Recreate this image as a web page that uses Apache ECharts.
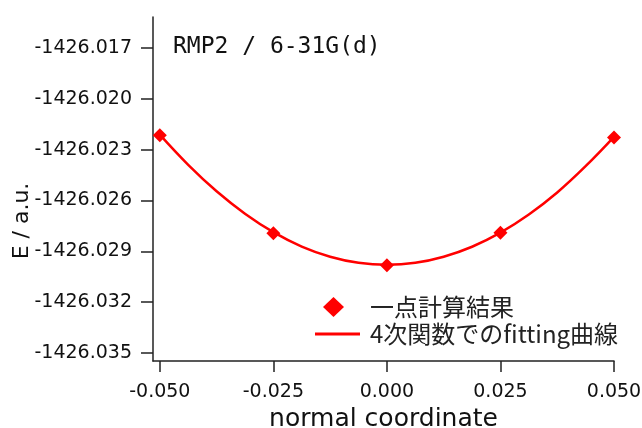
<!DOCTYPE html>
<html>
<head>
<meta charset="utf-8">
<script src="https://cdn.jsdelivr.net/npm/echarts@6/dist/echarts.min.js"></script>
<style>
  html, body { margin: 0; padding: 0; background: #fff; }
  #chart { width: 642px; height: 428px; }
</style>
</head>
<body>
<div id="chart"></div>
<script>
// 一点計算の結果 (normal coordinate, E / a.u.)
const pointX = [-0.05, -0.025, 0, 0.025, 0.05];
const pointE = [-1426.02215, -1426.02794, -1426.02982, -1426.0279, -1426.02229];

// 4次関数 fitting 曲線
const fitX = [
  -0.05, -0.04375, -0.0375, -0.03125, -0.025, -0.01875, -0.0125, -0.00625, 0,
  0.00625, 0.0125, 0.01875, 0.025, 0.03125, 0.0375, 0.04375, 0.05,
];
const fitE = [
  -1426.02212, -1426.0239, -1426.02546, -1426.02678, -1426.02787, -1426.02872, -1426.02932, -1426.02968, -1426.0298,
  -1426.02968, -1426.02932, -1426.02873, -1426.0279, -1426.02683, -1426.02553, -1426.02398, -1426.02225,
];

const xTicks = [-0.05, -0.025, 0, 0.025, 0.05];
const yTicks = [-1426.035, -1426.032, -1426.029, -1426.026, -1426.023, -1426.02, -1426.017];

const chart = echarts.init(document.getElementById("chart"));

const axisColor = "#222";
const sans = "DejaVu Sans";

const option = {
  animation: false,
  grid: { left: 153, right: 28, top: 17, bottom: 67, outerBoundsMode: "none", containLabel: false },
  title: {
    text: "RMP2 / 6-31G(d)",
    left: 168,
    top: 31,
    textStyle: { fontFamily: "DejaVu Sans Mono", fontSize: 23, fontWeight: "normal", color: "#111" },
  },
  legend: [
    {
      data: ["一点計算結果"],
      left: 318,
      top: 290,
      icon: "diamond",
      itemWidth: 21,
      itemHeight: 20,
      textStyle: { fontFamily: "Noto Sans CJK JP", fontSize: 24, color: "#222", padding: [0, 0, 0, 21] },
    },
    {
      data: [{ name: "4次関数でのfitting曲線", icon: "rect" }],
      left: 310,
      top: 317,
      itemWidth: 45,
      itemHeight: 3,
      textStyle: { fontFamily: "Noto Sans CJK JP", fontSize: 24, color: "#222", padding: [0, 0, 0, 5] },
    },
  ],
  xAxis: {
    type: "value",
    min: -0.0515,
    max: 0.05,
    name: "normal coordinate",
    nameLocation: "middle",
    nameGap: 46,
    nameMoveOverlap: false,
    nameTextStyle: { fontFamily: sans, fontSize: 25, color: "#111" },
    axisLine: { onZero: false, lineStyle: { color: axisColor, width: 1.5 } },
    axisTick: { length: 11, lineStyle: { color: axisColor, width: 1.5 }, customValues: xTicks },
    axisLabel: {
      customValues: xTicks,
      margin: 22,
      fontFamily: sans,
      fontSize: 19,
      color: "#111",
      formatter: (v) => v.toFixed(3),
    },
    splitLine: { show: false },
  },
  yAxis: {
    type: "value",
    min: -1426.03547,
    max: -1426.01518,
    name: "E / a.u.",
    nameLocation: "middle",
    nameGap: 120,
    nameMoveOverlap: false,
    nameTextStyle: { fontFamily: sans, fontSize: 22, color: "#111", padding: [0, 64, 0, 0] },
    axisLine: { onZero: false, lineStyle: { color: axisColor, width: 1.5 } },
    axisTick: { length: 12, lineStyle: { color: axisColor, width: 1.5 }, customValues: yTicks },
    axisLabel: {
      customValues: yTicks,
      margin: 21,
      fontFamily: sans,
      fontSize: 19,
      color: "#111",
      formatter: (v) => v.toFixed(3),
    },
    splitLine: { show: false },
  },
  series: [
    {
      name: "4次関数でのfitting曲線",
      type: "line",
      data: fitX.map((x, i) => [x, fitE[i]]),
      smooth: 0.4,
      showSymbol: false,
      symbol: "none",
      lineStyle: { color: "#ff0000", width: 2.5, join: "round" },
      itemStyle: { color: "#ff0000" },
      z: 2,
    },
    {
      name: "一点計算結果",
      type: "scatter",
      data: pointX.map((x, i) => [x, pointE[i]]),
      symbol: "diamond",
      symbolSize: 14,
      itemStyle: { color: "#ff0000", opacity: 1 },
      z: 3,
    },
  ],
};

chart.setOption(option);
</script>
</body>
</html>
